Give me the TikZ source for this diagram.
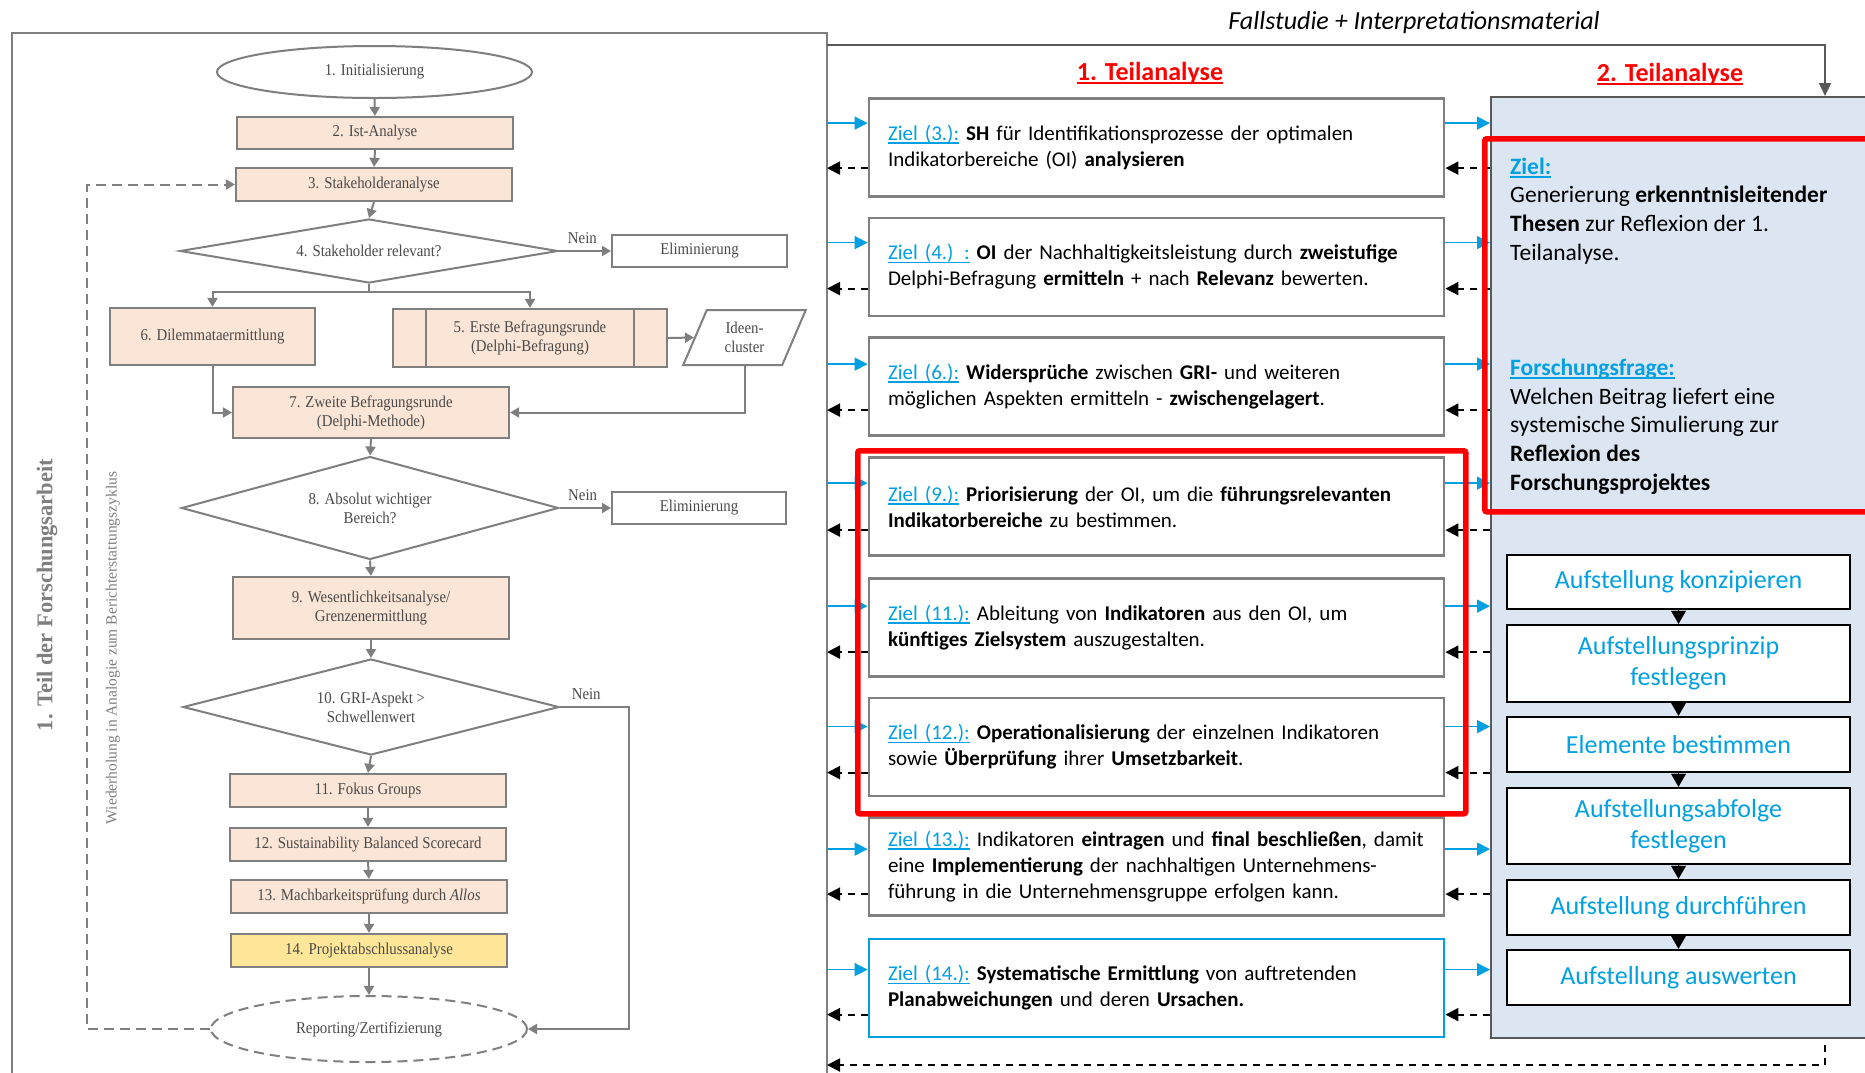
\documentclass[tikz,border=0pt]{standalone}
\usepackage{fontspec}
\setmainfont{Liberation Serif}[FakeStretch=0.9]
\newfontfamily\timesplain{Liberation Serif}
\newfontfamily\calib{Carlito}
\usetikzlibrary{shapes.geometric,arrows.meta,calc}

\definecolor{peach}{HTML}{FBE5D6}
\definecolor{yel}{HTML}{FFE699}
\definecolor{fgray}{HTML}{7F7F7F}
\definecolor{ftext}{HTML}{4A4A4A}
\definecolor{zgray}{HTML}{808080}
\definecolor{zblue}{HTML}{00A0E2}
\definecolor{panelblue}{HTML}{DCE6F2}
\definecolor{pgray}{HTML}{595959}

\newsavebox\ulbox
\newcommand\ulin[1]{\sbox\ulbox{#1}\rlap{\rule[-3.5pt]{\wd\ulbox}{1.7pt}}\usebox\ulbox}
\newcommand\flowf{\fontsize{16.5}{19}\selectfont}
\newcommand\zielf{\calib\fontsize{21}{26}\selectfont}
\newcommand\panelf{\calib\fontsize{23.5}{28.7}\selectfont}
\newcommand\aufsf{\calib\fontsize{26}{31}\selectfont}
\newcommand\zlab[1]{{\color{zblue}\ulin{#1}}}

\tikzset{
  fb/.style={rectangle, draw=fgray, line width=2.2pt, fill=peach, minimum width=276, minimum height=33,
    inner sep=1pt, font=\flowf, text=ftext, align=center},
  oval/.style={ellipse, draw=fgray, line width=2pt, fill=white, minimum width=315, minimum height=52,
    inner sep=0pt, font=\flowf, text=ftext},
  dia/.style={diamond, aspect=4, draw=fgray, line width=2pt, fill=white, inner sep=0pt,
    font=\flowf, text=ftext, align=center},
  eb/.style={rectangle, draw=fgray, line width=2pt, fill=white, minimum width=175, minimum height=32,
    font=\flowf, text=ftext},
  farr/.style={draw=fgray, line width=2pt, -{Triangle[length=9pt,width=10pt]}},
  fline/.style={draw=fgray, line width=2pt},
  fdash/.style={draw=fgray, line width=2pt, dash pattern=on 10pt off 6pt, -{Triangle[length=9pt,width=10pt]}},
  nein/.style={font=\flowf, text=ftext, above=3pt},
  zbox/.style={rectangle, draw=zgray, line width=2.8pt, fill=white, minimum width=575, minimum height=98,
    text width=537, inner xsep=19pt, inner ysep=0pt, align=left, font=\zielf},
  barr/.style={draw=zblue, line width=1.6pt, -{Triangle[length=13pt,width=13pt]}},
  darr/.style={draw=black, line width=2pt, dash pattern=on 7pt off 6pt, -{Triangle[length=13pt,width=13pt]}},
  tarr/.style={draw=pgray, line width=2pt, -{Triangle[length=13pt,width=12pt]}},
  abox/.style={rectangle, draw=black, line width=2.5pt, fill=white, minimum width=343, text=zblue,
    font=\aufsf, align=center, inner sep=0pt},
  tri/.style={draw=black, line width=0.1pt, -{Triangle[length=13pt,width=15pt]}},
  redbox/.style={draw=red, line width=5.5pt, rounded corners=2pt, inner sep=0pt, anchor=north west},
}

\newcommand\zarrows[3]{%
  \coordinate (#1b) at ($(#1.north west)+(0,#2)$);
  \coordinate (#1d) at ($(#1.north west)+(0,#3)$);
  \draw[barr] (leftpanel.east |- #1b) -- (#1.west |- #1b);
  \draw[darr] (#1.west |- #1d) -- (leftpanel.east |- #1d);
  \draw[barr] (#1.east |- #1b) -- (panel.west |- #1b);
  \draw[darr] (panel.west |- #1d) -- (#1.east |- #1d);
}
\newcommand\pline[3]{\node[anchor=base west, font=\panelf, inner sep=0pt] (#1) at (1510,#2) {#3};}

\begin{document}
\begin{tikzpicture}[x=1pt,y=-1pt]
\useasboundingbox[fill=white] (0,0) rectangle (1865,1072);

% ---------------- left panel ----------------
\node[draw=fgray, line width=2pt, anchor=north west, minimum width=815, minimum height=1070,
  inner sep=0pt, outer sep=0pt] (leftpanel) at (12,33) {};

\node[rotate=90, font=\timesplain\bfseries\fontsize{22.5}{26}\selectfont, text=fgray] (vt1) at (47,595) {1. Teil der Forschungsarbeit};
\node[rotate=90, font=\timesplain\fontsize{15.5}{18}\selectfont, text=fgray] (vt2) at (113,648) {Wiederholung in Analogie zum Berichterstattungszyklus};

\node[oval] (e1) at (374.5,72) {1. Initialisierung};
\node[fb, minimum height=32] (b2) at (375,133) {2. Ist-Analyse};
\node[fb] (b3) at (374,184.5) {3. Stakeholderanalyse};
\node[dia, minimum width=378, minimum height=64] (d4) at (369,251) {4. Stakeholder relevant?};
\node[eb] (el1) at (699.5,251) {Eliminierung};
\node[fb, minimum width=205, minimum height=57] (b6) at (212.5,336.5) {6. Dilemmataermittlung};
\node[fb, minimum width=274, minimum height=58] (b5) at (530,338) {5. Erste Befragungsrunde\\(Delphi-Befragung)};
\draw[fline] ([xshift=34pt]b5.north west) -- ([xshift=34pt]b5.south west);
\draw[fline] ([xshift=-34pt]b5.north east) -- ([xshift=-34pt]b5.south east);
\node[trapezium, trapezium left angle=68, trapezium right angle=112, trapezium stretches=true,
  minimum width=123, minimum height=55, draw=fgray, line width=2pt, fill=white, font=\flowf,
  text=ftext, align=center, inner sep=0pt] (para) at (744.5,337.5) {Ideen-\\cluster};
\node[fb, minimum height=51] (b7) at (371,412.5) {7. Zweite Befragungsrunde\\(Delphi-Methode)};
\node[dia, minimum width=377, minimum height=103] (d8) at (370,508) {8. Absolut wichtiger\\Bereich?};
\node[eb, minimum width=174] (el2) at (699,508) {Eliminierung};
\node[fb, minimum height=62] (b9) at (371,608) {9. Wesentlichkeitsanalyse/\\Grenzenermittlung};
\node[dia, minimum width=376, minimum height=96] (d10) at (371,707) {10. GRI-Aspekt >\\Schwellenwert};
\node[fb] (b11) at (368,790.5) {11. Fokus Groups};
\node[fb] (b12) at (368,844.5) {12. Sustainability Balanced Scorecard};
\node[fb] (b13) at (369,896.5) {13. Machbarkeitsprüfung durch \textit{Allos}};
\node[fb, fill=yel] (b14) at (369,950.5) {14. Projektabschlussanalyse};
\node[oval, dashed, dash pattern=on 10pt off 6pt, minimum width=316, minimum height=66] (rep) at (369,1029) {Reporting/Zertifizierung};

\draw[farr] (e1.south) -- (b2.north);
\draw[farr] (b2.south) -- (b3.north);
\draw[farr] (b3.south) -- (d4.north);
\draw[farr] (d4.east) -- node[nein, pos=0.45] {Nein} (el1.west);
\draw[fline] (d4.south) -- ++(0,8) coordinate (br4);
\draw[farr] (br4) -| (b6.north);
\draw[farr] (br4) -| (b5.north);
\draw[farr] (b5.east) -- (para.west);
\draw[farr] (para.south) |- (b7.east);
\draw[farr] (b6.south) |- (b7.west);
\draw[farr] (b7.south) -- (d8.north);
\draw[farr] (d8.east) -- node[nein, pos=0.45] {Nein} (el2.west);
\draw[farr] (d8.south) -- (b9.north);
\draw[farr] (b9.south) -- (d10.north);
\draw[farr] (d10.south) -- (b11.north);
\draw[farr] (b11.south) -- (b12.north);
\draw[farr] (b12.south) -- (b13.north);
\draw[farr] (b13.south) -- (b14.north);
\draw[farr] (b14.south) -- (rep.north);
\draw[farr] (d10.east) -- node[nein, pos=0.38] {Nein} ++(69,0) |- (rep.east);
\draw[fdash] (rep.west) -- ++(-123,0) |- (b3.west);

% ---------------- headings ----------------
\node[font=\calib\itshape\fontsize{26}{30}\selectfont] (title) at (1414,23) {Fallstudie + Interpretationsmaterial};
\node[text=red, font=\calib\bfseries\fontsize{26}{30}\selectfont] (t1) at (1150,73) {\ulin{1. Teilanalyse}};
\node[text=red, font=\calib\bfseries\fontsize{26}{30}\selectfont] (t2) at (1670,74) {\ulin{2. Teilanalyse}};

% ---------------- right panel ----------------
\node[fill=panelblue, draw=pgray, line width=2pt, anchor=north west, minimum width=420, minimum height=941,
  inner sep=0pt] (panel) at (1490,96) {};

\coordinate (tl) at (827,45);
\coordinate (tr) at (1825,45);
\draw[tarr] (leftpanel.east |- tl) -- (tr) -- (tr |- panel.north);

% ---------------- Ziel boxes ----------------
\node[zbox] (z3) at (1156.5,147.5) {\zlab{Ziel (3.):} \textbf{SH} für Identifikationsprozesse der optimalen\\Indikatorbereiche (OI) \textbf{analysieren}};
\node[zbox] (z4) at (1156.5,267) {\zlab{Ziel (4.) :} \textbf{OI} der Nachhaltigkeitsleistung durch \textbf{zweistufige}\\Delphi-Befragung \textbf{ermitteln} + nach \textbf{Relevanz} bewerten.};
\node[zbox] (z6) at (1156.5,386.5) {\zlab{Ziel (6.):} \textbf{Widersprüche} zwischen \textbf{GRI-} und weiteren\\möglichen Aspekten ermitteln - \textbf{zwischengelagert}.};
\node[zbox] (z9) at (1156.5,506.5) {\zlab{Ziel (9.):} \textbf{Priorisierung} der OI, um die \textbf{führungsrelevanten}\\\textbf{Indikatorbereiche} zu bestimmen.};
\node[zbox] (z11) at (1156.5,627.5) {\zlab{Ziel (11.):} Ableitung von \textbf{Indikatoren} aus den OI, um\\\textbf{künftiges Zielsystem} auszugestalten.};
\node[zbox] (z12) at (1156.5,747) {\zlab{Ziel (12.):} \textbf{Operationalisierung} der einzelnen Indikatoren\\sowie \textbf{Überprüfung} ihrer \textbf{Umsetzbarkeit}.};
\node[zbox] (z13) at (1156.5,866.5) {\zlab{Ziel (13.):} Indikatoren \textbf{eintragen} und \textbf{final beschließen}, damit\\eine \textbf{Implementierung} der nachhaltigen Unternehmens-\\führung in die Unternehmensgruppe erfolgen kann.};
\node[zbox, draw=zblue] (z14) at (1156.5,988) {\zlab{Ziel (14.):} \textbf{Systematische Ermittlung} von auftretenden\\\textbf{Planabweichungen} und deren \textbf{Ursachen.}};

\zarrows{z3}{26}{71}
\zarrows{z4}{26}{72}
\zarrows{z6}{28}{74}
\zarrows{z9}{27}{74}
\zarrows{z11}{29}{75}
\zarrows{z12}{30}{76}
\zarrows{z13}{33}{78}
\zarrows{z14}{32}{77}

\coordinate (bd) at (1825,1045);
\coordinate (bd2) at (1825,1065);
\draw[darr] (bd) -- (bd2) -- (leftpanel.east |- bd2);

% ---------------- panel text ----------------
\pline{p1}{174}{\zlab{\textbf{Ziel:}}}
\pline{p2}{202}{Generierung \textbf{erkenntnisleitender}}
\pline{p3}{231}{\textbf{Thesen} zur Reflexion der 1.}
\pline{p4}{260}{Teilanalyse.}
\pline{p5}{375}{\zlab{\textbf{Forschungsfrage:}}}
\pline{p6}{404}{Welchen Beitrag liefert eine}
\pline{p7}{432}{systemische Simulierung zur}
\pline{p8}{461}{\textbf{Reflexion des}}
\pline{p9}{490}{\textbf{Forschungsprojektes}}

% ---------------- Aufstellung boxes ----------------
\node[abox, minimum height=54] (A1) at (1678.5,582) {Aufstellung konzipieren};
\node[abox, minimum height=77] (A2) at (1678.5,663.5) {Aufstellungsprinzip\\festlegen};
\node[abox, minimum height=55] (A3) at (1678.5,744.5) {Elemente bestimmen};
\node[abox, minimum height=76] (A4) at (1678.5,826) {Aufstellungsabfolge\\festlegen};
\node[abox, minimum height=55] (A5) at (1678.5,907.5) {Aufstellung durchführen};
\node[abox, minimum height=55] (A6) at (1678.5,977.5) {Aufstellung auswerten};
\draw[tri] (A1.south) -- (A2.north);
\draw[tri] (A2.south) -- (A3.north);
\draw[tri] (A3.south) -- (A4.north);
\draw[tri] (A4.south) -- (A5.north);
\draw[tri] (A5.south) -- (A6.north);

% ---------------- red frames ----------------
\node[redbox, minimum width=608, minimum height=363] (redM) at (855,448) {};
\node[redbox, minimum width=420, minimum height=373] (redR) at (1482,136) {};
\end{tikzpicture}
\end{document}
